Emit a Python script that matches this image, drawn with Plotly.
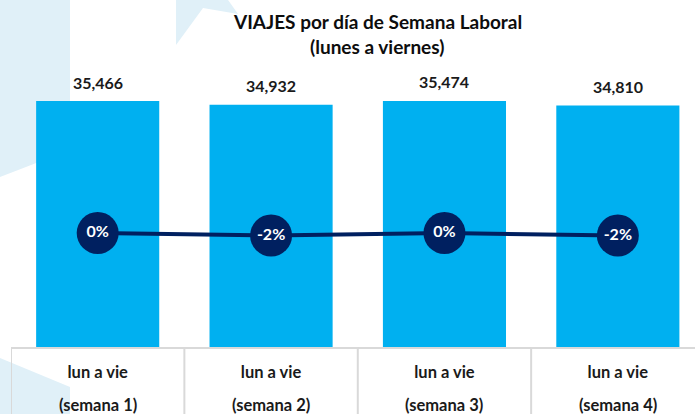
import plotly.graph_objects as go

# datos
semanas = ["semana 1", "semana 2", "semana 3", "semana 4"]
viajes = [35466, 34932, 35474, 34810]
variacion = [0.0, -0.02, 0.0, -0.02]
dia_label = "lun a vie"

W, H = 695, 414
L, R, T, B = 11, 0, 60, 67
FONT = "Lato"
BAR_BLUE = "#00B0F0"
NAVY = "#002060"
DECO = "#E0F0F8"
GRID = "#D9D9D9"


def px_to_paper(x, y):
    return (x - L) / (W - L - R), (H - B - y) / (H - T - B)


def deco_path(points):
    pts = [px_to_paper(x, y) for x, y in points]
    return "M " + " L ".join(f"{x:.4f},{y:.4f}" for x, y in pts) + " Z"


fig = go.Figure()
fig.add_trace(go.Bar(
    x=semanas, y=viajes, width=0.71, marker_color=BAR_BLUE,
    marker_line_width=0, hoverinfo="skip", showlegend=False,
))
fig.add_trace(go.Scatter(
    x=semanas, y=variacion, yaxis="y2", mode="lines+markers+text",
    line=dict(color=NAVY, width=4), marker=dict(size=42, color=NAVY),
    text=[f"{v:.0%}" for v in variacion], textposition="middle center",
    textfont=dict(family=FONT, size=16, color="white", weight="bold"),
    hoverinfo="skip", showlegend=False,
))

label_font = dict(family=FONT, size=16.5, color="#1a1a1a", weight="bold")
annotations = []
for s, v in zip(semanas, viajes):
    annotations.append(dict(
        x=s, y=v, xref="x", yref="y", text=f"{v:,}", showarrow=False,
        yshift=19, yanchor="middle",
        font=dict(family=FONT, size=16, color="#1a1a1a", weight="bold"),
    ))
    annotations.append(dict(
        x=s, y=px_to_paper(0, 405)[1], xref="x", yref="paper", text=f"({s})",
        showarrow=False, yanchor="middle", font=label_font,
    ))

tx, ty1 = px_to_paper(377, 21)
_, ty2 = px_to_paper(377, 47)
title_font = dict(family=FONT, size=19, color="#0d0d0d", weight="bold")
annotations.append(dict(x=tx, y=ty1, xref="paper", yref="paper", showarrow=False,
                        text="VIAJES por día de Semana Laboral", yanchor="middle", font=title_font))
annotations.append(dict(x=tx, y=ty2, xref="paper", yref="paper", showarrow=False,
                        text="(lunes a viernes)", yanchor="middle", font=title_font))

shapes = [
    dict(type="path", xref="paper", yref="paper", layer="below", line_width=0, fillcolor=DECO,
         path=deco_path([(0, 0), (70, 0), (70, 150), (0, 177)])),
    dict(type="path", xref="paper", yref="paper", layer="below", line_width=0, fillcolor=DECO,
         path=deco_path([(0, 358), (70, 387), (70, 414), (0, 414)])),
    dict(type="path", xref="paper", yref="paper", layer="below", line_width=0, fillcolor=DECO,
         path=deco_path([(176, 0), (228, 0), (238, 14), (203, 8), (176, 45)])),
]
# líneas verticales de la tabla de categorías
for i in range(len(semanas) + 1):
    shapes.append(dict(type="line", xref="x", yref="paper", x0=i - 0.5, x1=i - 0.5,
                       y0=0, y1=-0.3, line=dict(color=GRID, width=2)))

fig.update_layout(
    width=W, height=H,
    margin=dict(l=L, r=R, t=T, b=B, pad=0),
    paper_bgcolor="white", plot_bgcolor="rgba(0,0,0,0)",
    xaxis=dict(
        type="category", range=[-0.5, 3.445], showgrid=False, zeroline=False,
        showline=True, linecolor=GRID, linewidth=2, ticks="",
        tickvals=semanas, ticktext=[dia_label] * len(semanas), ticklabelstandoff=9,
        tickfont=label_font,
    ),
    yaxis=dict(range=[0, 41380], visible=False),
    yaxis2=dict(range=[-0.912, 1.384], overlaying="y", visible=False),
    annotations=annotations,
    shapes=shapes,
    bargap=0.29,
)

fig.write_html("out.html", config={"displayModeBar": False},
               post_script="document.body.style.margin='0';")
